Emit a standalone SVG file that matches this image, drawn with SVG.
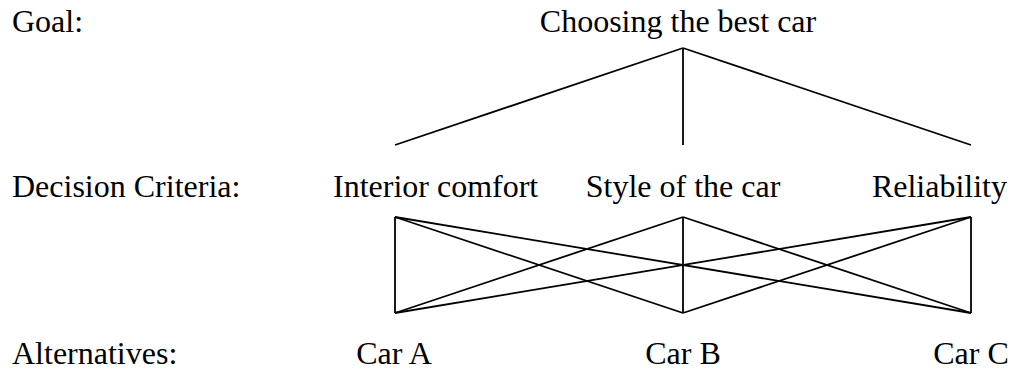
<svg xmlns="http://www.w3.org/2000/svg" width="1013" height="369" viewBox="0 0 1013 369">
<rect width="1013" height="369" fill="#fff"/>
<g id="labels">
<text x="12" y="32" font-size="32" style="font-family:'Liberation Serif'">Goal:</text>
<text x="12" y="197" font-size="32" style="font-family:'Liberation Serif'">Decision Criteria:</text>
<text x="12" y="364" font-size="32" style="font-family:'Liberation Serif'">Alternatives:</text>
</g>
<g id="goal"><text x="678" y="32" text-anchor="middle" font-size="32" style="font-family:'Liberation Serif'">Choosing the best car</text></g>
<g id="crit-interior"><text x="333" y="197" font-size="32" style="font-family:'Liberation Serif'">Interior comfort</text></g>
<g id="crit-style"><text x="683" y="197" text-anchor="middle" font-size="32" style="font-family:'Liberation Serif'">Style of the car</text></g>
<g id="crit-reliability"><text x="1007" y="197" text-anchor="end" font-size="32" style="font-family:'Liberation Serif'">Reliability</text></g>
<g id="car-a"><text x="394" y="364" text-anchor="middle" font-size="32" style="font-family:'Liberation Serif'">Car A</text></g>
<g id="car-b"><text x="683" y="364" text-anchor="middle" font-size="32" style="font-family:'Liberation Serif'">Car B</text></g>
<g id="car-c"><text x="971" y="364" text-anchor="middle" font-size="32" style="font-family:'Liberation Serif'">Car C</text></g>
<g id="connectors" stroke="#000" stroke-width="1.8">
<line x1="683" y1="48" x2="395" y2="145"/>
<line x1="683" y1="48" x2="683" y2="145"/>
<line x1="683" y1="48" x2="971" y2="145"/>
<line x1="395" y1="217" x2="395" y2="313"/>
<line x1="395" y1="217" x2="683" y2="313"/>
<line x1="395" y1="217" x2="971" y2="313"/>
<line x1="683" y1="217" x2="395" y2="313"/>
<line x1="683" y1="217" x2="683" y2="313"/>
<line x1="683" y1="217" x2="971" y2="313"/>
<line x1="971" y1="217" x2="395" y2="313"/>
<line x1="971" y1="217" x2="683" y2="313"/>
<line x1="971" y1="217" x2="971" y2="313"/>
</g>
</svg>
